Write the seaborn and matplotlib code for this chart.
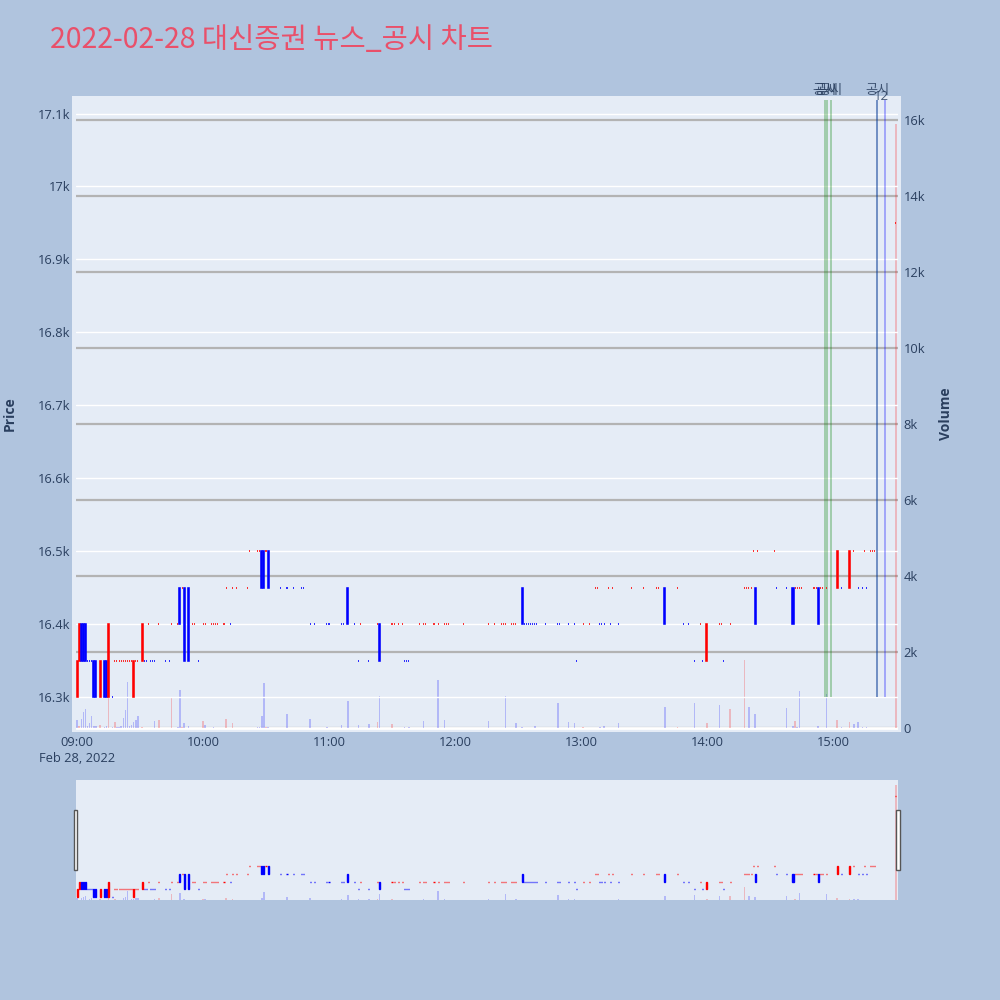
import matplotlib
matplotlib.use('Agg')
import numpy as np
import pandas as pd
import seaborn as sns
import matplotlib.pyplot as plt
from matplotlib.patches import Rectangle
from matplotlib.ticker import FuncFormatter

# minutes after 09:00 that had trades, with open / close / volume
minutes = [0, 1, 2, 3, 4, 5, 6, 7, 8, 9, 11, 13, 14, 15, 17, 18, 19, 20, 21, 22, 23, 24, 25, 26, 27, 28, 29,
           31, 32, 33, 34, 35, 36, 37, 39, 42, 44, 45, 48, 49, 50, 51, 53, 55, 56, 58, 60, 61,
           64, 65, 66, 67, 70, 71, 73, 74, 76, 81, 82, 86, 87, 88, 89, 90, 91, 97, 100, 103, 107, 108,
           111, 113, 119, 120, 126, 127, 129,
           132, 134, 135, 139, 143, 144, 150, 151, 153, 155, 156, 157, 158, 163, 165, 166, 170, 172, 175, 176, 177, 184,
           196, 199, 202, 203, 204, 207, 208, 209, 212, 213, 214, 215, 216, 217, 218, 219, 223, 229, 230, 234, 237,
           238, 241, 244, 247, 248, 249, 250, 251, 253, 254, 255, 258,
           264, 270, 276, 277, 280, 286, 289, 291, 294, 297, 298, 300, 306, 307, 308, 311, 318, 319, 320, 321, 322, 323, 324,
           332, 333, 338, 341, 342, 343, 344, 345, 351, 352, 353, 354, 355, 357, 362, 364, 368, 370, 372, 374, 375, 376,
           378, 379, 380, 390]

opens = [16300, 16350, 16400, 16400, 16400, 16350, 16350, 16350, 16350, 16350, 16300, 16350, 16350, 16300, 16300,
         16350, 16350, 16350, 16350, 16350, 16350, 16350, 16350, 16350, 16300, 16350, 16350,
         16350, 16350, 16350, 16400, 16350, 16350, 16350, 16400, 16350, 16350, 16400, 16400, 16450, 16450, 16450, 16450,
         16400, 16400, 16350, 16400, 16400,
         16400, 16400, 16400, 16400, 16400, 16450, 16400, 16450, 16450, 16450, 16500, 16500, 16500, 16500, 16500, 16500,
         16500, 16450, 16450, 16450, 16450, 16450, 16400, 16400, 16400, 16400, 16400, 16400, 16450,
         16400, 16350, 16400, 16350, 16400, 16400, 16400, 16400, 16400, 16400, 16350, 16350, 16350, 16400, 16400, 16400,
         16400, 16400, 16400, 16400, 16400, 16400,
         16400, 16400, 16400, 16400, 16400, 16400, 16400, 16400, 16450, 16400, 16400, 16400, 16400, 16400, 16400, 16400,
         16400, 16400, 16400, 16400, 16400, 16350, 16400, 16400, 16450, 16450, 16400, 16400, 16400, 16450, 16400, 16450, 16400,
         16450, 16450, 16450, 16450, 16450, 16450, 16400, 16400, 16350, 16400, 16350, 16350, 16400, 16400, 16350, 16400,
         16450, 16450, 16450, 16450, 16500, 16450, 16500,
         16500, 16450, 16450, 16450, 16450, 16450, 16450, 16450, 16450, 16450, 16450, 16450, 16450, 16450, 16450, 16450,
         16450, 16500, 16450, 16450, 16500, 16450, 16500, 16500, 16500, 16950]

closes = [16350, 16400, 16350, 16350, 16350, 16350, 16350, 16350, 16300, 16300, 16350, 16300, 16300, 16400, 16300,
          16350, 16350, 16350, 16350, 16350, 16350, 16350, 16350, 16350, 16350, 16350, 16350,
          16400, 16350, 16350, 16400, 16350, 16350, 16350, 16400, 16350, 16350, 16400, 16400, 16400, 16450, 16350, 16350,
          16400, 16400, 16350, 16400, 16400,
          16400, 16400, 16400, 16400, 16400, 16450, 16400, 16450, 16450, 16450, 16500, 16500, 16500, 16450, 16450, 16500,
          16450, 16450, 16450, 16450, 16450, 16450, 16400, 16400, 16400, 16400, 16400, 16400, 16400,
          16400, 16350, 16400, 16350, 16400, 16350, 16400, 16400, 16400, 16400, 16350, 16350, 16350, 16400, 16400, 16400,
          16400, 16400, 16400, 16400, 16400, 16400,
          16400, 16400, 16400, 16400, 16400, 16400, 16400, 16400, 16400, 16400, 16400, 16400, 16400, 16400, 16400, 16400,
          16400, 16400, 16400, 16400, 16400, 16350, 16400, 16400, 16450, 16450, 16400, 16400, 16400, 16450, 16400, 16450, 16400,
          16450, 16450, 16450, 16450, 16400, 16450, 16400, 16400, 16350, 16400, 16350, 16400, 16400, 16400, 16350, 16400,
          16450, 16450, 16450, 16450, 16500, 16400, 16500,
          16500, 16450, 16450, 16400, 16450, 16450, 16450, 16450, 16450, 16450, 16400, 16450, 16450, 16450, 16500, 16450,
          16500, 16500, 16450, 16450, 16500, 16450, 16500, 16500, 16500, 16950]

volumes = [210, 40, 230, 430, 490, 50, 120, 316, 40, 60, 80, 30, 50, 780, 20, 170, 20, 30, 40, 270, 470, 1200, 40, 90,
           166, 210, 316,
           20, 10, 10, 10, 10, 10, 184, 210, 10, 10, 780, 30, 1000, 20, 120, 40, 10, 10, 10, 184, 80,
           10, 20, 10, 10, 10, 237, 10, 120, 10, 10, 10, 20, 20, 325, 1175, 20, 30, 10, 368, 10, 10, 10,
           228, 10, 20, 10, 80, 10, 710,
           10, 80, 10, 96, 166, 840, 96, 10, 10, 10, 20, 10, 20, 10, 184, 10, 10, 1254, 200, 10, 10, 10,
           184, 10, 10, 10, 840, 10, 10, 140, 20, 10, 10, 10, 10, 10, 40, 10, 10, 660, 10, 166, 130,
           10, 20, 10, 10, 10, 20, 10, 60, 10, 10, 10, 130,
           10, 10, 10, 10, 544, 20, 10, 10, 660, 10, 10, 130, 605, 10, 10, 510, 1780, 10, 550, 10, 10, 377, 10,
           10, 10, 520, 60, 185, 30, 970, 10, 10, 10, 40, 10, 10, 890, 210, 30, 150, 100, 170, 20, 10, 20,
           10, 10, 10, 15900]

hour_ticks = [0, 60, 120, 180, 240, 300, 360]
hour_labels = ['09:00\nFeb 28, 2022', '10:00', '11:00', '12:00', '13:00', '14:00', '15:00']

# news / disclosure markers (minutes after 09:00)
green_events = [356.2, 357.1, 359.0, 380.9]
blue_events = [380.9, 385.0]

assert len(minutes) == len(opens) == len(closes) == len(volumes)

PAPER = '#B0C4DE'
PLOT_BG = '#E5ECF6'
FONT_C = '#2a3f5f'
RED = '#FF0000'
BLUE = '#0000FF'
KR = ['Noto Sans CJK KR', 'DejaVu Sans']

sns.set_theme(style='white')
plt.rcParams['font.family'] = ['Open Sans', 'Noto Sans CJK KR', 'DejaVu Sans']

df = pd.DataFrame({'minute': minutes, 'open': opens, 'close': closes, 'volume': volumes})
prev_close = df['close'].shift(1)

# candle direction, ties decided by previous close then previous direction
up = []
last = True
for o, c, pc in zip(df['open'], df['close'], prev_close):
    if c > o:
        d = True
    elif c < o:
        d = False
    elif pd.isna(pc) or c == pc:
        d = last
    else:
        d = c > pc
    up.append(d)
    last = d
df['up'] = up
df['vol_up'] = (df['close'] > prev_close).fillna(False)
df['lo'] = df[['open', 'close']].min(axis=1)
df['hi'] = df[['open', 'close']].max(axis=1)
cand_col = np.where(df['up'], RED, BLUE)
vol_col = [(1, 0, 0, 0.22) if u else (0, 0, 1, 0.22) for u in df['vol_up']]


def k_fmt(v, p):
    if v == 0:
        return '0'
    s = f'{v / 1000:.1f}'.rstrip('0').rstrip('.')
    return s + 'k'


fig = plt.figure(figsize=(10, 10), dpi=100, facecolor=PAPER)
fig.patches.append(Rectangle((0.072, 0.268), 0.829, 0.636, transform=fig.transFigure,
                             facecolor=PLOT_BG, edgecolor='none', zorder=-1))

ax_v = fig.add_axes([0.076, 0.268, 0.822, 0.636])
ax_v.set_facecolor(PLOT_BG)
ax_p = ax_v.twinx()

# volume
ax_v.bar(df['minute'], df['volume'], width=0.7, color=vol_col, linewidth=0)
ax_v.set_ylim(-105, 16632)
ax_v.set_yticks(range(0, 16001, 2000))
ax_v.yaxis.set_major_formatter(FuncFormatter(k_fmt))
ax_v.grid(axis='y', color='#B3B3B3', lw=1.6)
ax_v.set_axisbelow(True)
ax_v.axhline(0, color='white', lw=2, zorder=0.6)
ax_v.yaxis.set_ticks_position('right')

# price candles
ax_p.bar(df['minute'], df['hi'] - df['lo'], bottom=df['lo'], width=0.5,
         color=cand_col, edgecolor=cand_col, linewidth=1.15, zorder=3)
ax_p.vlines(green_events, 16300, 17118, colors=(0, 0.5, 0, 0.3), lw=1.4, zorder=2)
ax_p.vlines(blue_events, 16300, 17118, colors=(0, 0, 1, 0.35), lw=1.2, zorder=2)
ax_p.set_ylim(16252, 17124)
ax_p.set_yticks(range(16300, 17101, 100))
ax_p.yaxis.set_major_formatter(FuncFormatter(k_fmt))
ax_p.grid(axis='y', color='white', lw=1)
ax_p.yaxis.set_ticks_position('left')
ax_p.patch.set_visible(False)

for a in (ax_v, ax_p):
    for s in a.spines.values():
        s.set_visible(False)
    a.tick_params(axis='both', length=0, labelsize=9.3, labelcolor=FONT_C, pad=4)
ax_v.set_xlim(-0.5, 391)
ax_v.set_xticks(hour_ticks)
ax_v.set_xticklabels(hour_labels, linespacing=1.25)
ax_v.tick_params(axis='x', pad=3)

fig.text(0.010, 0.586, 'Price', rotation=90, ha='center', va='center',
         fontsize=10, fontweight='bold', color=FONT_C)
fig.text(0.946, 0.586, 'Volume', rotation=90, ha='center', va='center',
         fontsize=10, fontweight='bold', color=FONT_C)

# event labels above the plot (they overlap in the original too)
lab_tr = ax_p.get_xaxis_transform()
for xm in green_events[:3]:
    ax_p.text(xm, 1.0094, '공시', transform=lab_tr, ha='center', va='center', fontsize=9.5,
              color=FONT_C, alpha=0.85, clip_on=False, family=KR)
ax_p.text(381.4, 1.0094, '공시', transform=lab_tr, ha='center', va='center', fontsize=9.5,
          color=FONT_C, alpha=0.85, clip_on=False, family=KR)
ax_p.text(382.9, 0.9999, '12', transform=lab_tr, ha='center', va='center', fontsize=9.5,
          color=FONT_C, alpha=0.85, clip_on=False)

fig.text(0.05, 0.96, '2022-02-28 대신증권 뉴스_공시 차트', ha='left', va='center', fontsize=20.5,
         color='#E9506A', family=KR)

# range slider
ax_s = fig.add_axes([0.076, 0.1, 0.822, 0.12])
ax_s.set_facecolor(PLOT_BG)
ax_s.bar(df['minute'], df['volume'], width=0.7, color=vol_col, linewidth=0)
ax_s.set_ylim(0, 16600)
ax_s2 = ax_s.twinx()
ax_s2.bar(df['minute'], df['hi'] - df['lo'], bottom=df['lo'], width=0.5,
          color=cand_col, edgecolor=cand_col, linewidth=1.0)
ax_s2.set_ylim(16281, 17055)
ax_s.set_xlim(-0.5, 391)
for a in (ax_s, ax_s2):
    a.set_xticks([])
    a.set_yticks([])
    for s in a.spines.values():
        s.set_visible(False)
for hx in (0.0735, 0.8963):
    fig.patches.append(Rectangle((hx, 0.13), 0.0037, 0.06, transform=fig.transFigure,
                                 facecolor='white', edgecolor='#555555', lw=1, zorder=5))

fig.savefig('out.png', dpi=100, facecolor=PAPER)
